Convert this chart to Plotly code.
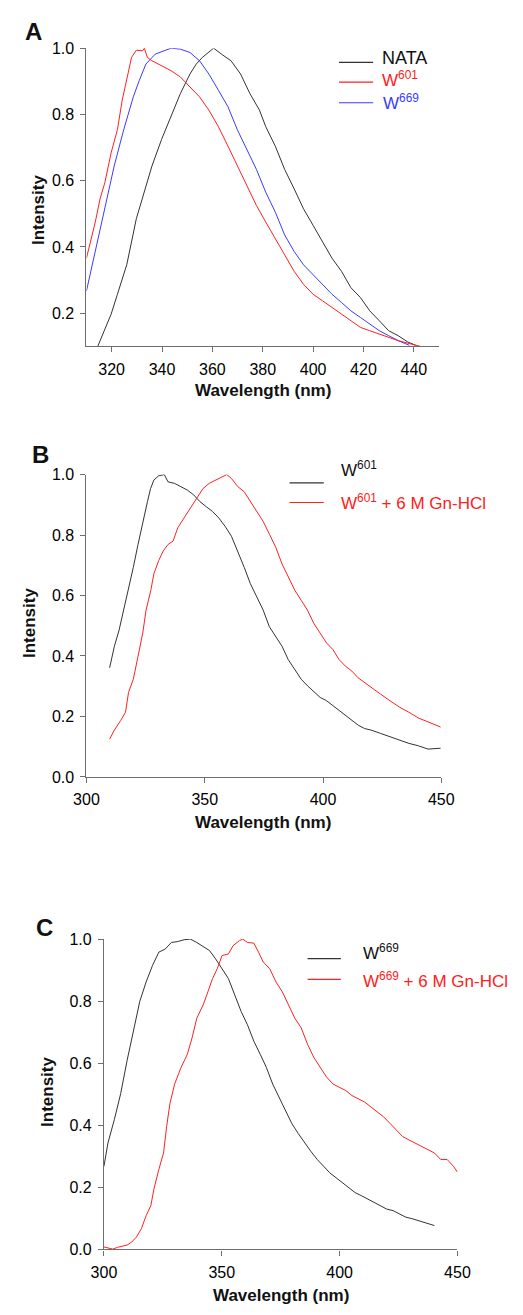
import plotly.graph_objects as go

W, H = 523, 1315

# ---------------- Panel A data ----------------
a_nata_x = [314.5, 319.8, 322.3, 326, 329.8, 333.6, 336, 339.8, 343.6, 347.3, 351.1, 353.6, 356, 358.6, 360.5,
            363.6, 367.4, 371.2, 374.9, 378.7, 381.2, 385, 388.7, 392.5, 396.2, 400, 403.8, 407.5, 411.3,
            415, 418.8, 422.5, 426.3, 430, 433.8, 437.6, 440.7]
a_nata_y = [0.1, 0.197, 0.257, 0.346, 0.485, 0.585, 0.644, 0.724, 0.793, 0.863, 0.922, 0.952, 0.972, 0.987, 1.0,
            0.982, 0.962, 0.922, 0.863, 0.813, 0.763, 0.704, 0.634, 0.575, 0.515, 0.465, 0.416, 0.366, 0.326,
            0.277, 0.247, 0.207, 0.177, 0.147, 0.132, 0.113, 0.103]
a_w601_x = [310, 313.5, 315.4, 317.3, 319.8, 322.3, 324.2, 326, 327.9, 329.8, 332.3, 333, 334.2, 336, 339.8,
            343.6, 347.3, 351.1, 354.9, 358.6, 362.4, 366.2, 369.9, 373.7, 377.5, 381.2, 385, 388.7, 392.5,
            396.2, 400, 403.8, 407.5, 411.3, 415, 418.8, 422.5, 426.3, 430, 433.8, 438.8, 442.5]
a_w601_y = [0.366, 0.475, 0.545, 0.594, 0.684, 0.754, 0.843, 0.903, 0.972, 0.994, 0.992, 1.0, 0.972, 0.962, 0.947,
            0.932, 0.913, 0.883, 0.853, 0.813, 0.763, 0.704, 0.644, 0.585, 0.525, 0.475, 0.426, 0.376, 0.326,
            0.287, 0.257, 0.237, 0.217, 0.197, 0.177, 0.157, 0.147, 0.137, 0.127, 0.117, 0.107, 0.1]
a_w669_x = [310, 313.5, 317.3, 321, 324.8, 328.6, 331, 333.6, 337.3, 341.1, 343.6, 347.3, 351.1, 354.9, 358.6,
            362.4, 366.2, 369.9, 373.7, 377.5, 381.2, 385, 388.7, 392.5, 396.2, 400, 403.8, 407.5, 411.3,
            415, 418.8, 422.5, 426.3, 430, 433.8, 438.2]
a_w669_y = [0.267, 0.386, 0.525, 0.644, 0.754, 0.853, 0.903, 0.952, 0.982, 0.992, 1.0, 0.997, 0.987, 0.962, 0.922,
            0.873, 0.823, 0.754, 0.694, 0.634, 0.565, 0.505, 0.436, 0.386, 0.346, 0.316, 0.287, 0.257, 0.232,
            0.207, 0.187, 0.167, 0.147, 0.132, 0.117, 0.103]

# ---------------- Panel B data ----------------
b_w601_x = [309.8, 311.8, 313.8, 315.8, 317.8, 319.8, 321.8, 323.8, 325.8, 327.1, 328.5, 330.5, 332.9, 334.5,
            337.2, 339.9, 342.6, 345.3, 347.9, 350.6, 353.3, 356, 358.6, 361.3, 364, 366.7, 369.3, 372, 374.7,
            377.3, 380, 382.7, 385.3, 388, 390.8, 393.5, 396.2, 398.8, 401.5, 404.2, 406.9, 409.5, 412.2,
            414.9, 417.6, 420.3, 424.3, 428.3, 432.3, 436.3, 440.3, 444.4, 449.7]
b_w601_y = [0.361, 0.432, 0.486, 0.552, 0.628, 0.693, 0.769, 0.845, 0.911, 0.954, 0.982, 0.996, 1.0, 0.976,
            0.971, 0.96, 0.949, 0.933, 0.911, 0.894, 0.878, 0.856, 0.829, 0.796, 0.747, 0.693, 0.639, 0.595, 0.552,
            0.497, 0.465, 0.432, 0.388, 0.356, 0.323, 0.301, 0.28, 0.263, 0.252, 0.236, 0.22, 0.203, 0.187,
            0.171, 0.16, 0.155, 0.144, 0.133, 0.122, 0.111, 0.103, 0.092, 0.095]
b_gn_x = [309.8, 311.8, 314.5, 316.5, 317.8, 319.8, 321.8, 323.8, 325.2, 327.2, 328.5, 330.5, 332.5, 334.5,
          336.6, 338.6, 341.2, 343.9, 346.6, 349.3, 351.9, 354.6, 357.3, 359.3, 361.3, 364, 366.7, 369.4,
          372, 374.7, 377.4, 380.1, 382.7, 385.4, 388.1, 390.8, 393.4, 396.1, 398.8, 401.5, 404.2, 406.8,
          409.5, 412.2, 414.8, 417.5, 420.3, 424.3, 428.3, 432.3, 436.3, 440.3, 444.4, 449.7]
b_gn_y = [0.125, 0.155, 0.187, 0.214, 0.28, 0.323, 0.399, 0.476, 0.552, 0.617, 0.672, 0.715, 0.748, 0.769,
          0.78, 0.824, 0.856, 0.889, 0.922, 0.954, 0.971, 0.982, 0.992, 1.0, 0.987, 0.96, 0.943, 0.911,
          0.878, 0.845, 0.802, 0.758, 0.704, 0.66, 0.617, 0.584, 0.552, 0.508, 0.476, 0.443, 0.421, 0.388,
          0.366, 0.35, 0.328, 0.312, 0.296, 0.274, 0.252, 0.231, 0.214, 0.195, 0.182, 0.165]

# ---------------- Panel C data ----------------
c_w669_x = [300, 301.7, 304.4, 307.1, 309.8, 312.5, 315.2, 317.9, 320.6, 323.3, 326, 328.6, 331.3, 334, 336.7,
            339.4, 342.1, 344.8, 347.4, 350.1, 352.8, 355.5, 358.2, 360.9, 363.6, 366.3, 368.9, 371.6, 374.3,
            377, 379.7, 382.4, 385.1, 387.8, 390.5, 393.1, 395.8, 398.5, 401.2, 403.9, 406.6, 409.3, 412,
            414.7, 417.3, 420, 422.7, 425.4, 428.1, 430.8, 433.5, 436.2, 440.2]
c_w669_y = [0.268, 0.343, 0.418, 0.502, 0.608, 0.703, 0.799, 0.862, 0.915, 0.958, 0.968, 0.989, 0.992, 0.998, 1.0,
            0.989, 0.977, 0.963, 0.936, 0.905, 0.873, 0.82, 0.767, 0.724, 0.671, 0.629, 0.587, 0.533, 0.491,
            0.449, 0.406, 0.374, 0.343, 0.316, 0.29, 0.268, 0.247, 0.231, 0.215, 0.199, 0.183, 0.173, 0.162,
            0.152, 0.141, 0.13, 0.125, 0.115, 0.104, 0.099, 0.093, 0.088, 0.077]
c_gn_x = [300, 301.7, 303.8, 305.8, 307.8, 309.8, 311.8, 313.8, 315.9, 317.9, 319.9, 321.2, 323.3, 325.3, 326.6,
          328, 330, 332.7, 335.4, 337.4, 339.4, 342.1, 344.1, 346.1, 348.1, 350.1, 352.8, 354.8, 357.5, 358.9,
          360.9, 363.6, 365.6, 367.6, 370.3, 373, 375.7, 378.4, 381, 383.7, 386.4, 389.1, 391.8, 394.5,
          397.2, 399.9, 402.6, 405.2, 407.9, 410.6, 413.3, 416, 418.7, 421.4, 424.1, 426.7, 429.4, 432.1,
          434.8, 437.5, 440.2, 442.9, 445.6, 448.3, 450]
c_gn_y = [0.008, 0.005, 0.001, 0.007, 0.011, 0.014, 0.024, 0.04, 0.067, 0.109, 0.141, 0.194, 0.258, 0.311, 0.396,
          0.47, 0.533, 0.586, 0.629, 0.682, 0.745, 0.788, 0.83, 0.873, 0.905, 0.947, 0.952, 0.979, 0.995, 1.0,
          0.989, 0.987, 0.958, 0.926, 0.905, 0.862, 0.83, 0.788, 0.745, 0.714, 0.661, 0.618, 0.586, 0.555,
          0.533, 0.523, 0.512, 0.496, 0.486, 0.475, 0.459, 0.443, 0.427, 0.406, 0.385, 0.364, 0.353, 0.342,
          0.332, 0.321, 0.311, 0.29, 0.29, 0.268, 0.249]

# tick values
a_xticks = [320, 340, 360, 380, 400, 420, 440]
a_yticks = [0.2, 0.4, 0.6, 0.8, 1.0]
bc_xticks = [300, 350, 400, 450]
bc_yticks = [0.0, 0.2, 0.4, 0.6, 0.8, 1.0]

BLACK = "#333333"
RED = "#ff2020"
BLUE = "#3a3aff"
AXIS = "#6e6e6e"
FONT = "Liberation Sans, Arial, sans-serif"


def px_x(p):
    return p / W


def px_y(p):
    return 1 - p / H


fig = go.Figure()

panels = [
    # (axis suffix, x px range, y px range (top, bottom), xrange, yrange, xticks, yticks)
    ("", (77.3, 448.3), (40.7, 342.7), [310, 450], [0.1, 1.0], a_xticks, a_yticks),
    ("2", (77.3, 450.7), (472.7, 779.0), [300, 450], [0.0, 1.0], bc_xticks, bc_yticks),
    ("3", (95.7, 467.7), (943.3, 1257.7), [300, 450], [0.0, 1.0], bc_xticks, bc_yticks),
]

series = [
    [(a_nata_x, a_nata_y, BLACK), (a_w669_x, a_w669_y, BLUE), (a_w601_x, a_w601_y, RED)],
    [(b_w601_x, b_w601_y, BLACK), (b_gn_x, b_gn_y, RED)],
    [(c_w669_x, c_w669_y, BLACK), (c_gn_x, c_gn_y, RED)],
]

layout = {}
for (suf, xpx, ypx, xr, yr, xt, yt), ser in zip(panels, series):
    for xs, ys, col in ser:
        fig.add_trace(go.Scatter(x=xs, y=ys, mode="lines", line=dict(color=col, width=1),
                                 xaxis="x" + suf, yaxis="y" + suf, showlegend=False, hoverinfo="skip"))
    common = dict(showline=True, linecolor=AXIS, linewidth=1.2, ticks="outside", ticklen=5,
                  tickcolor=AXIS, tickwidth=1.2, showgrid=False, zeroline=False,
                  tickfont=dict(family=FONT, size=16, color="#000000"), fixedrange=True)
    layout["xaxis" + suf] = dict(domain=[px_x(xpx[0]), px_x(xpx[1])], range=xr, tickvals=xt,
                                 anchor="y" + suf, ticklabelstandoff=3, **common)
    layout["yaxis" + suf] = dict(domain=[px_y(ypx[1]), px_y(ypx[0])], range=yr, tickvals=yt,
                                 ticktext=["%.1f" % v for v in yt], anchor="x" + suf,
                                 ticklabelstandoff=3, **common)

fig.update_layout(**layout)

ann = []


def text(x, y, s, size=15, bold=False, color="#111111", angle=0, xanchor="center"):
    ann.append(dict(x=px_x(x), y=px_y(y), xref="paper", yref="paper", text=("<b>%s</b>" % s) if bold else s,
                    showarrow=False, textangle=angle, xanchor=xanchor, yanchor="middle",
                    font=dict(family=FONT, size=size, color=color)))


# panel letters
text(22, 24, "A", size=24, bold=True)
text(29, 452, "B", size=24, bold=True)
text(33, 932, "C", size=24, bold=True)

# axis titles
text(27, 205, "Intensity", size=17, bold=True, angle=-90)
text(263, 388, "Wavelength (nm)", size=17, bold=True)
text(18, 623, "Intensity", size=17, bold=True, angle=-90)
text(263, 825, "Wavelength (nm)", size=17, bold=True)
text(37, 1098, "Intensity", size=17, bold=True, angle=-90)
text(282, 1304, "Wavelength (nm)", size=17, bold=True)

# legends
shapes = []


def leg_line(x0, x1, y, col):
    shapes.append(dict(type="line", xref="paper", yref="paper", x0=px_x(x0), x1=px_x(x1),
                       y0=px_y(y), y1=px_y(y), line=dict(color=col, width=1.2)))


leg_line(343, 379, 55, BLACK)
leg_line(343, 379, 75, RED)
leg_line(343, 379, 96, BLUE)
text(386, 51, "NATA", size=18, xanchor="left")
text(386, 72, "W<sup>601</sup>", size=17, color=RED, xanchor="left")
text(387, 95, "W<sup>669</sup>", size=17, color=BLUE, xanchor="left")

leg_line(291, 327, 481, BLACK)
leg_line(291, 327, 501, RED)
text(343, 467, "W<sup>601</sup>", size=17, xanchor="left")
text(343, 500, "W<sup>601</sup> + 6 M Gn-HCl", size=17, color=RED, xanchor="left")

leg_line(310, 345, 963, BLACK)
leg_line(310, 345, 984, RED)
text(366, 956, "W<sup>669</sup>", size=17, xanchor="left")
text(366, 985, "W<sup>669</sup> + 6 M Gn-HCl", size=17, color=RED, xanchor="left")

fig.update_layout(annotations=ann, shapes=shapes, width=W, height=H,
                  margin=dict(l=0, r=0, t=0, b=0), paper_bgcolor="white", plot_bgcolor="white",
                  showlegend=False, font=dict(family=FONT))

fig.write_html("out.html", config={"displayModeBar": False},
               post_script="document.body.style.margin='0';document.body.style.overflow='hidden';")
